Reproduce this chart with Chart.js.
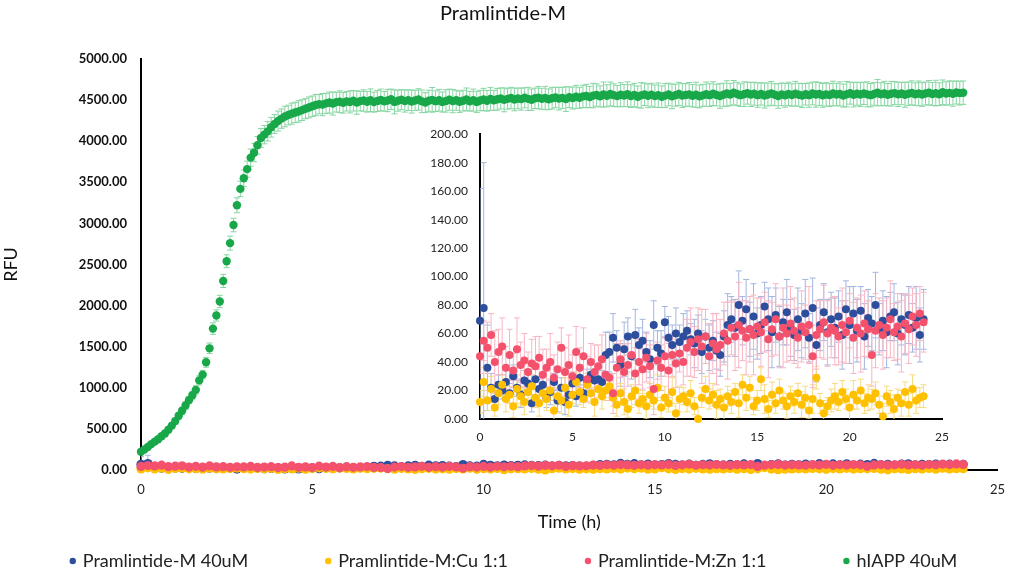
<!DOCTYPE html>
<html>
<head>
<meta charset="utf-8">
<script src="https://cdn.jsdelivr.net/npm/chart.js@4.4.1/dist/chart.umd.min.js"></script>
<style>
  body { margin: 0; background: #fff; }
  #wrap { position: relative; width: 1017px; height: 573px; }
  #mainChart { position: absolute; left: 0; top: 0; }
  #insetChart { position: absolute; left: 400px; top: 115px; }
</style>
</head>
<body>
<div id="wrap">
  <canvas id="mainChart" width="1017" height="573"></canvas>
  <canvas id="insetChart" width="560" height="340"></canvas>
</div>
<script>
// sampling times (h)
const timeFine = [
  0,0.1,0.2,0.3,0.4,0.5,0.6,0.7,0.8,0.9,
  1,1.1,1.2,1.3,1.4,1.5,1.6,1.7,1.8,1.9,
  2,2.1,2.2,2.3,2.4,2.5,2.6,2.7,2.8,2.9,
  3,3.1,3.2,3.3,3.4,3.5,3.6,3.7,3.8,3.9,
  4,4.1,4.2,4.3,4.4,4.5,4.6,4.7,4.8,4.9,
  5,5.1,5.2,5.3,5.4,5.5,5.6,5.7,5.8,5.9,
  6,6.1,6.2,6.3,6.4,6.5,6.6,6.7,6.8,6.9,
  7,7.1,7.2,7.3,7.4,7.5,7.6,7.7,7.8,7.9,
  8,8.1,8.2,8.3,8.4,8.5,8.6,8.7,8.8,8.9,
  9,9.1,9.2,9.3,9.4,9.5,9.6,9.7,9.8,9.9,
  10,10.1,10.2,10.3,10.4,10.5,10.6,10.7,10.8,10.9,
  11,11.1,11.2,11.3,11.4,11.5,11.6,11.7,11.8,11.9,
  12,12.1,12.2,12.3,12.4,12.5,12.6,12.7,12.8,12.9,
  13,13.1,13.2,13.3,13.4,13.5,13.6,13.7,13.8,13.9,
  14,14.1,14.2,14.3,14.4,14.5,14.6,14.7,14.8,14.9,
  15,15.1,15.2,15.3,15.4,15.5,15.6,15.7,15.8,15.9,
  16,16.1,16.2,16.3,16.4,16.5,16.6,16.7,16.8,16.9,
  17,17.1,17.2,17.3,17.4,17.5,17.6,17.7,17.8,17.9,
  18,18.1,18.2,18.3,18.4,18.5,18.6,18.7,18.8,18.9,
  19,19.1,19.2,19.3,19.4,19.5,19.6,19.7,19.8,19.9,
  20,20.1,20.2,20.3,20.4,20.5,20.6,20.7,20.8,20.9,
  21,21.1,21.2,21.3,21.4,21.5,21.6,21.7,21.8,21.9,
  22,22.1,22.2,22.3,22.4,22.5,22.6,22.7,22.8,22.9,
  23,23.1,23.2,23.3,23.4,23.5,23.6,23.7,23.8,23.9,
  24
];
const timeCoarse = [
  0,0.2,0.4,0.6,0.8,1,
  1.2,1.4,1.6,1.8,2,2.2,2.4,2.6,2.8,3,
  3.2,3.4,3.6,3.8,4,4.2,4.4,4.6,4.8,5,
  5.2,5.4,5.6,5.8,6,6.2,6.4,6.6,6.8,7,
  7.2,7.4,7.6,7.8,8,8.2,8.4,8.6,8.8,9,
  9.2,9.4,9.6,9.8,10,10.2,10.4,10.6,10.8,11,
  11.2,11.4,11.6,11.8,12,12.2,12.4,12.6,12.8,13,
  13.2,13.4,13.6,13.8,14,14.2,14.4,14.6,14.8,15,
  15.2,15.4,15.6,15.8,16,16.2,16.4,16.6,16.8,17,
  17.2,17.4,17.6,17.8,18,18.2,18.4,18.6,18.8,19,
  19.2,19.4,19.6,19.8,20,20.2,20.4,20.6,20.8,21,
  21.2,21.4,21.6,21.8,22,22.2,22.4,22.6,22.8,23,
  23.2,23.4,23.6,23.8,24
];

const seriesNames = ['Pramlintide-M 40uM', 'Pramlintide-M:Cu 1:1', 'Pramlintide-M:Zn 1:1', 'hIAPP 40uM'];

// hIAPP 40uM (RFU), every 0.1 h
const hiappVals = [
  223,250,280,315,345,375,410,445,490,540,
  595,660,720,785,850,910,975,1090,1160,1310,
  1480,1720,1880,2050,2300,2540,2760,2980,3220,3420,
  3550,3660,3800,3860,3950,4040,4080,4120,4170,4210,
  4245,4275,4300,4318,4335,4350,4362,4378,4395,4410,
  4425,4440,4450,4445,4460,4470,4458,4475,4480,4468,
  4485,4478,4492,4470,4488,4495,4480,4498,4475,4490,
  4502,4485,4495,4510,4478,4493,4505,4488,4500,4482,
  4496,4508,4485,4470,4492,4503,4487,4499,4476,4490,
  4505,4488,4498,4480,4493,4509,4486,4500,4478,4495,
  4507,4492,4515,4498,4510,4520,4503,4515,4525,4508,
  4520,4512,4528,4515,4505,4522,4530,4516,4525,4510,
  4523,4532,4518,4527,4512,4535,4525,4540,4528,4545,
  4550,4538,4555,4562,4545,4568,4552,4575,4560,4548,
  4565,4555,4572,4548,4562,4540,4558,4570,4552,4565,
  4548,4560,4540,4555,4568,4545,4560,4575,4555,4562,
  4570,4552,4565,4545,4558,4572,4560,4578,4562,4550,
  4565,4580,4568,4590,4575,4560,4572,4585,4568,4578,
  4560,4575,4555,4568,4582,4565,4550,4570,4558,4575,
  4562,4578,4565,4555,4572,4560,4580,4568,4575,4558,
  4570,4562,4580,4568,4575,4555,4572,4585,4565,4578,
  4568,4582,4570,4560,4575,4590,4572,4580,4565,4578,
  4585,4570,4580,4565,4578,4588,4572,4582,4568,4580,
  4590,4575,4585,4572,4595,4580,4588,4578,4592,4585,
  4590
];
const hiappErr = [
  20,22,25,24,28,26,30,28,32,35,
  38,40,42,45,44,48,50,55,52,60,
  65,70,68,75,80,78,85,82,90,95,
  100,98,105,110,108,115,112,118,120,115,
  122,118,125,120,128,124,130,126,122,128,
  125,130,118,135,122,128,140,120,132,126,
  118,134,125,142,120,130,126,138,122,128,
  132,120,136,124,145,128,122,134,126,140,
  124,130,138,120,128,150,126,132,122,136,
  128,142,122,130,126,138,120,134,128,124,
  136,126,140,122,132,128,145,124,130,138,
  126,134,122,140,130,124,136,128,142,126,
  132,124,138,128,150,126,134,140,128,136,
  142,130,148,136,128,152,134,145,138,130,
  146,134,150,138,142,132,155,136,144,140,
  136,148,132,145,138,150,134,142,146,138,
  144,136,152,140,134,148,138,145,132,150,
  140,155,136,148,142,138,150,134,146,140,
  148,136,152,140,145,134,150,138,144,142,
  136,150,140,146,132,148,138,154,140,145,
  142,138,150,136,146,140,155,134,148,140,
  146,136,152,142,138,160,140,148,136,150,
  140,148,136,152,142,146,138,150,144,140,
  148,140,156,138,150,142,146,152,140,145,
  142
];

// Pramlintide-M 40uM, every 0.2 h
const pramVals = [
  69,78,36,22,14,24,
  20,26,18,30,22,17,27,25,11,28,
  21,24,15,19,26,13,22,12,17,25,
  16,29,18,27,31,27,28,26,45,47,
  57,50,38,49,58,44,59,52,55,47,
  42,66,50,46,68,57,52,60,54,58,
  62,56,53,60,47,58,50,55,48,45,
  58,66,70,64,80,69,77,63,72,60,
  66,79,70,61,73,58,68,75,64,59,
  70,62,74,57,78,52,66,75,61,70,
  64,72,59,77,66,74,62,76,58,71,
  67,80,63,69,61,72,75,60,70,66,
  73,64,71,59,70
];
const pramErr = [
  93,102,30,10,8,7,
  6,9,7,8,6,9,7,8,6,7,
  8,6,7,9,6,8,7,9,6,8,
  7,9,6,8,10,7,9,8,16,14,
  17,12,15,19,13,16,18,12,15,14,
  13,17,12,16,11,15,14,18,12,16,
  14,11,17,13,15,12,16,14,13,15,
  18,22,16,20,24,17,21,19,23,18,
  20,17,22,25,19,21,16,23,20,18,
  22,19,24,17,21,26,18,20,23,19,
  21,18,24,20,27,19,22,17,23,20,
  19,23,18,21,25,17,20,22,18,21,
  20,17,22,19,21
];

// Pramlintide-M:Cu 1:1, every 0.2 h
const cuVals = [
  12,26,13,21,8,18,
  24,14,17,9,21,16,12,19,23,15,
  11,18,14,20,6,16,13,22,10,17,
  26,19,14,24,18,12,21,16,20,23,
  15,10,18,12,7,16,20,11,14,9,
  17,13,22,8,15,11,19,4,14,16,
  12,18,9,0,15,21,13,17,10,14,
  8,16,12,19,11,24,15,22,9,13,
  28,14,7,17,11,20,13,9,16,12,
  18,10,15,6,14,29,11,4,9,13,
  16,12,19,14,8,17,13,20,11,15,
  14,18,10,2,16,12,7,15,11,19,
  10,21,13,15,16
];
const cuErr = [
  8,10,7,9,6,8,
  7,9,6,8,10,7,9,6,8,7,
  9,6,8,7,10,6,9,7,8,6,
  7,9,6,8,7,10,6,9,7,8,
  6,8,7,9,6,8,10,7,6,9,
  8,6,9,7,8,6,10,7,9,6,
  7,9,6,8,7,9,6,8,10,7,
  9,7,8,6,10,7,9,8,6,7,
  8,10,6,9,7,8,6,9,7,8,
  7,9,8,6,10,8,7,9,6,8,
  9,6,8,7,9,10,6,8,7,9,
  7,8,6,9,7,8,10,6,9,7,
  8,10,9,7,8
];

// Pramlintide-M:Zn 1:1, every 0.2 h
const znVals = [
  44,55,50,59,40,47,
  51,36,45,34,49,38,41,33,39,37,
  43,31,36,40,29,35,50,33,38,30,
  47,36,44,28,40,33,37,42,31,29,
  18,36,42,33,38,45,32,40,35,43,
  37,21,41,36,44,34,45,39,46,40,
  50,54,47,56,51,58,44,53,49,52,
  60,55,64,58,66,62,57,63,59,65,
  61,68,56,63,70,58,64,60,67,62,
  57,65,61,66,44,59,63,68,60,64,
  62,58,66,61,69,57,64,60,67,63,
  45,62,66,59,64,70,61,65,58,67,
  63,72,66,74,68
];
const znErr = [
  12,14,18,15,22,16,
  20,15,18,12,22,16,19,14,17,21,
  15,18,13,20,16,19,14,17,21,15,
  18,14,20,16,13,19,15,17,12,16,
  14,17,13,19,15,12,18,16,14,17,
  15,18,13,16,14,19,15,17,13,16,
  20,24,18,22,26,19,23,21,25,18,
  22,27,19,24,30,21,26,23,28,20,
  24,21,27,19,25,22,28,20,26,23,
  21,25,19,27,22,24,20,26,23,21,
  24,20,26,22,19,25,21,27,23,20,
  22,26,19,24,21,27,20,23,25,21,
  24,20,22,19,21
];

const mainYTicks = [0, 500, 1000, 1500, 2000, 2500, 3000, 3500, 4000, 4500, 5000];
const insetYTicks = [0, 20, 40, 60, 80, 100, 120, 140, 160, 180, 200];
const xTicks = [0, 5, 10, 15, 20, 25];

const COLORS = ['#2D4E9C', '#FFC000', '#F4516C', '#18A84A'];
const ERR_COLORS = ['#A3B5DF', '#F8DA80', '#F7B6C2', '#86D6A2'];
const FONT = 'Lato, "Open Sans", sans-serif';

function pts(times, vals) {
  return vals.map((v, i) => ({ x: times[i], y: v }));
}

// vertical error bars with caps, drawn under the markers
const errorBars = {
  id: 'errorBars',
  beforeDatasetsDraw(chart) {
    const { ctx, chartArea } = chart;
    const xs = chart.scales.x, ys = chart.scales.y;
    ctx.save();
    ctx.beginPath();
    ctx.rect(chartArea.left, chartArea.top, chartArea.right - chartArea.left, chartArea.bottom - chartArea.top);
    ctx.clip();
    ctx.lineWidth = 1;
    chart.data.datasets.forEach((ds, i) => {
      if (!ds.errors || !chart.isDatasetVisible(i)) return;
      ctx.strokeStyle = ds.errorColor;
      ds.data.forEach((p, j) => {
        const e = ds.errors[j];
        const x = xs.getPixelForValue(p.x);
        const y0 = ys.getPixelForValue(p.y - e);
        const y1 = ys.getPixelForValue(p.y + e);
        ctx.beginPath();
        ctx.moveTo(x, y0); ctx.lineTo(x, y1);
        ctx.moveTo(x - 3, y0); ctx.lineTo(x + 3, y0);
        ctx.moveTo(x - 3, y1); ctx.lineTo(x + 3, y1);
        ctx.stroke();
      });
    });
    ctx.restore();
  }
};

// Excel-like legend row at the bottom
const bottomLegend = {
  id: 'bottomLegend',
  afterDraw(chart) {
    const ctx = chart.ctx;
    const gap = 80, dotGap = 10, y = 561;
    ctx.save();
    ctx.font = '18px ' + FONT;
    ctx.textBaseline = 'middle';
    const items = chart.data.datasets.map(d => ({ text: d.label, color: d.backgroundColor, w: ctx.measureText(d.label).width }));
    let total = 0;
    items.forEach((it, i) => { total += dotGap + it.w + (i ? gap : 0); });
    let x = 515 - total / 2;
    items.forEach(it => {
      ctx.fillStyle = it.color;
      ctx.beginPath();
      ctx.arc(x, y, 3.2, 0, Math.PI * 2);
      ctx.fill();
      ctx.fillStyle = '#222';
      ctx.fillText(it.text, x + dotGap, y);
      x += dotGap + it.w + gap;
    });
    ctx.restore();
  }
};

function lowSeries(radius) {
  return [
    { label: seriesNames[0], data: pts(timeCoarse, pramVals), errors: pramErr, errorColor: ERR_COLORS[0],
      backgroundColor: COLORS[0], borderColor: COLORS[0], pointRadius: radius, order: 3 },
    { label: seriesNames[1], data: pts(timeCoarse, cuVals), errors: cuErr, errorColor: ERR_COLORS[1],
      backgroundColor: COLORS[1], borderColor: COLORS[1], pointRadius: radius, order: 2 },
    { label: seriesNames[2], data: pts(timeCoarse, znVals), errors: znErr, errorColor: ERR_COLORS[2],
      backgroundColor: COLORS[2], borderColor: COLORS[2], pointRadius: radius, order: 1 }
  ];
}

const mainDatasets = lowSeries(4.6);
mainDatasets.push({
  label: seriesNames[3], data: pts(timeFine, hiappVals), errors: hiappErr, errorColor: ERR_COLORS[3],
  backgroundColor: COLORS[3], borderColor: COLORS[3], pointRadius: 4.2, order: 0
});

new Chart(document.getElementById('mainChart'), {
  type: 'scatter',
  data: { datasets: mainDatasets },
  plugins: [errorBars, bottomLegend],
  options: {
    responsive: false,
    animation: false,
    events: [],
    layout: { padding: { left: 0, right: 11, top: 0, bottom: 0 } },
    datasets: { scatter: { clip: false, pointBorderWidth: 0, pointHoverRadius: 0 } },
    plugins: {
      legend: { display: false },
      tooltip: { enabled: false },
      title: {
        display: true, text: 'Pramlintide-M', color: '#111',
        font: { family: FONT, size: 20, weight: 'normal' },
        padding: { top: 2, bottom: 33 }
      }
    },
    scales: {
      x: {
        type: 'linear', min: 0, max: 25,
        afterBuildTicks: s => { s.ticks = xTicks.map(v => ({ value: v })); },
        afterFit: s => { s.height = 103; },
        grid: { display: false, drawTicks: false },
        border: { display: true, color: '#000', width: 2 },
        ticks: { padding: 12, color: '#222', font: { family: FONT, size: 13 } },
        title: { display: true, text: 'Time (h)', color: '#111',
          font: { family: FONT, size: 18 }, padding: { top: 0, bottom: 40 } }
      },
      y: {
        type: 'linear', min: 0, max: 5000,
        afterBuildTicks: s => { s.ticks = mainYTicks.map(v => ({ value: v })); },
        afterFit: s => { s.width = 141; },
        grid: { display: false, drawTicks: false },
        border: { display: true, color: '#000', width: 2 },
        ticks: { padding: 14, color: '#111', font: { family: FONT, size: 13, weight: 'bold' },
          callback: v => v.toFixed(2) },
        title: { display: true, text: 'RFU', color: '#111',
          font: { family: FONT, size: 18 }, padding: { top: 0, bottom: 0 } }
      }
    }
  }
});

new Chart(document.getElementById('insetChart'), {
  type: 'scatter',
  data: { datasets: lowSeries(4) },
  plugins: [errorBars],
  options: {
    responsive: false,
    animation: false,
    events: [],
    layout: { padding: { left: 0, right: 10, top: 15, bottom: 0 } },
    datasets: { scatter: { clip: false, pointBorderWidth: 0, pointHoverRadius: 0 } },
    plugins: { legend: { display: false }, tooltip: { enabled: false }, title: { display: false } },
    scales: {
      x: {
        type: 'linear', min: 0, max: 25,
        afterBuildTicks: s => { s.ticks = xTicks.map(v => ({ value: v })); },
        afterFit: s => { s.height = 36; },
        grid: { display: false, drawTicks: false },
        border: { display: true, color: '#000', width: 2 },
        ticks: { padding: 11, color: '#222', font: { family: FONT, size: 12 } }
      },
      y: {
        type: 'linear', min: 0, max: 200,
        afterBuildTicks: s => { s.ticks = insetYTicks.map(v => ({ value: v })); },
        afterFit: s => { s.width = 80; },
        grid: { display: false, drawTicks: false },
        border: { display: true, color: '#000', width: 2 },
        ticks: { padding: 12, color: '#222', font: { family: FONT, size: 12 },
          callback: v => v.toFixed(2) }
      }
    }
  }
});
</script>
</body>
</html>
